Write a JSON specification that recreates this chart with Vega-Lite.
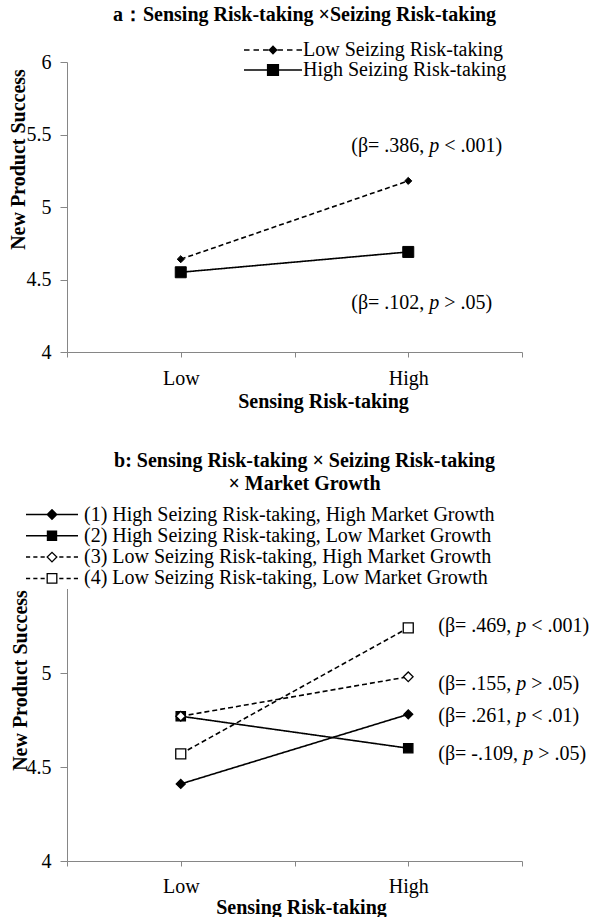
{
  "$schema": "https://vega.github.io/schema/vega-lite/v6.json",
  "padding": {"left": 7, "top": 5, "right": 0, "bottom": 0},
  "background": "white",
  "config": {
    "font": "Liberation Serif",
    "view": {"stroke": null},
    "axis": {
      "labelFont": "Liberation Serif", "labelFontSize": 20, "labelColor": "black",
      "titleFont": "Liberation Serif", "titleFontSize": 20, "titleFontWeight": "bold", "titleColor": "black",
      "domainColor": "#868686", "tickColor": "#868686", "grid": false
    },
    "legend": {"labelFont": "Liberation Serif", "labelFontSize": 20, "labelColor": "black", "labelLimit": 700},
    "title": {"font": "Liberation Serif", "fontSize": 20, "fontWeight": "bold", "color": "black"}
  },
  "datasets": {
    "a": [
      {"sensing": "Low", "seizing": "Low Seizing Risk-taking", "nps": 4.64},
      {"sensing": "High", "seizing": "Low Seizing Risk-taking", "nps": 5.18},
      {"sensing": "Low", "seizing": "High Seizing Risk-taking", "nps": 4.55},
      {"sensing": "High", "seizing": "High Seizing Risk-taking", "nps": 4.69}
    ],
    "notesA": [
      {"sensing": "High", "seizing": "Low Seizing Risk-taking", "label_y": 5.42, "pre": "(β= .386,", "post": "< .001)"},
      {"sensing": "High", "seizing": "High Seizing Risk-taking", "label_y": 4.34, "pre": "(β= .102,", "post": "> .05)"}
    ],
    "b": [
      {"sensing": "Low", "group": "(1) High Seizing Risk-taking, High Market Growth", "nps": 4.41},
      {"sensing": "High", "group": "(1) High Seizing Risk-taking, High Market Growth", "nps": 4.78},
      {"sensing": "Low", "group": "(2) High Seizing Risk-taking, Low Market Growth", "nps": 4.77},
      {"sensing": "High", "group": "(2) High Seizing Risk-taking, Low Market Growth", "nps": 4.6},
      {"sensing": "Low", "group": "(3) Low Seizing Risk-taking, High Market Growth", "nps": 4.77},
      {"sensing": "High", "group": "(3) Low Seizing Risk-taking, High Market Growth", "nps": 4.98},
      {"sensing": "Low", "group": "(4) Low Seizing Risk-taking, Low Market Growth", "nps": 4.57},
      {"sensing": "High", "group": "(4) Low Seizing Risk-taking, Low Market Growth", "nps": 5.24}
    ],
    "notesB": [
      {"sensing": "High", "group": "(4) Low Seizing Risk-taking, Low Market Growth", "label_y": 5.25, "pre": "(β= .469,", "post": "< .001)"},
      {"sensing": "High", "group": "(3) Low Seizing Risk-taking, High Market Growth", "label_y": 4.94, "pre": "(β= .155,", "post": "> .05)"},
      {"sensing": "High", "group": "(1) High Seizing Risk-taking, High Market Growth", "label_y": 4.77, "pre": "(β= .261,", "post": "< .01)"},
      {"sensing": "High", "group": "(2) High Seizing Risk-taking, Low Market Growth", "label_y": 4.57, "pre": "(β= -.109,", "post": "> .05)"}
    ]
  },
  "bounds": "flush",
  "spacing": 227,
  "vconcat": [
    {
      "width": 455,
      "height": 290,
      "title": {"text": "a：Sensing Risk-taking ×Seizing Risk-taking", "frame": "group", "anchor": "middle", "dx": 10, "offset": 16},
      "data": {"name": "a"},
      "encoding": {
        "x": {
          "field": "sensing", "type": "ordinal",
          "scale": {"type": "point", "domain": ["L0", "Low", "M", "High", "H0"], "padding": 0},
          "axis": {
            "title": "Sensing Risk-taking",
            "labelExpr": "datum.value == 'Low' || datum.value == 'High' ? datum.value : ''",
            "labelAngle": 0, "tickSize": 5, "labelPadding": 11,
            "titleX": 256, "titleY": 49, "titleBaseline": "middle"
          }
        }
      },
      "layer": [
        {
          "mark": {"type": "line", "strokeWidth": 1.6, "color": "black"},
          "encoding": {
            "y": {"field": "nps", "type": "quantitative", "scale": {"domain": [4, 6], "nice": false},
              "axis": {"title": "New Product Success", "values": [4, 4.5, 5, 5.5, 6], "format": "~g", "tickSize": 7, "labelPadding": 9,
                "titleX": -49, "titleY": 97, "titleAlign": "center", "titleBaseline": "middle", "titleAngle": -90}},
            "strokeDash": {"field": "seizing", "type": "nominal",
              "scale": {"domain": ["Low Seizing Risk-taking", "High Seizing Risk-taking"], "range": [[5, 3], [1, 0]]}, "legend": null}
          }
        },
        {
          "mark": {"type": "point", "filled": true, "stroke": "black", "strokeWidth": 1, "opacity": 1},
          "encoding": {
            "y": {"field": "nps", "type": "quantitative", "title": "New Product Success"},
            "shape": {"field": "seizing", "type": "nominal",
              "scale": {"domain": ["Low Seizing Risk-taking", "High Seizing Risk-taking"], "range": ["diamond", "square"]}, "legend": null},
            "fill": {"field": "seizing", "type": "nominal",
              "scale": {"domain": ["Low Seizing Risk-taking", "High Seizing Risk-taking"], "range": ["black", "black"]}, "legend": null},
            "size": {"field": "seizing", "type": "ordinal",
              "scale": {"domain": ["Low Seizing Risk-taking", "High Seizing Risk-taking"], "range": [50, 121]}, "legend": null}
          }
        },
        {
          "transform": [{"filter": "false"}],
          "mark": {"type": "point", "filled": true, "color": "black"},
          "encoding": {
            "y": {"field": "nps", "type": "quantitative", "title": "New Product Success"},
            "shape": {"field": "seizing", "type": "nominal",
              "scale": {"domain": ["Low Seizing Risk-taking", "High Seizing Risk-taking"],
                "range": [
                  "M-1,-0.026H-0.81V0.026H-1ZM-0.672,-0.026H-0.482V0.026H-0.672ZM-0.344,-0.026H-0.154V0.026H-0.344ZM0.154,-0.026H0.344V0.026H0.154ZM0.482,-0.026H0.672V0.026H0.482ZM0.81,-0.026H1V0.026H0.81ZM0,-0.16L0.16,0L0,0.16L-0.16,0Z",
                  "M-1,-0.026H1V0.026H-1ZM-0.21,-0.21H0.21V0.21H-0.21Z"
                ]},
              "legend": {"orient": "none", "legendX": 177, "legendY": -21, "title": null, "symbolSize": 3364, "symbolStrokeWidth": 0, "symbolFillColor": "black", "symbolOpacity": 1, "clipHeight": 18, "rowPadding": 0, "padding": 0, "labelOffset": 1, "labelFontSize": 20, "labelLimit": 700}}
          }
        },
        {
          "data": {"name": "notesA"},
          "mark": {"type": "text", "align": "left", "baseline": "middle", "dx": -57, "fontSize": 20, "font": "Liberation Serif", "color": "black"},
          "encoding": {"y": {"field": "label_y", "type": "quantitative", "title": "New Product Success"}, "text": {"field": "pre"}}
        },
        {
          "data": {"name": "notesA"},
          "mark": {"type": "text", "align": "left", "baseline": "middle", "dx": 21, "fontSize": 20, "font": "Liberation Serif", "fontStyle": "italic", "color": "black", "text": "p"},
          "encoding": {"y": {"field": "label_y", "type": "quantitative", "title": "New Product Success"}}
        },
        {
          "data": {"name": "notesA"},
          "mark": {"type": "text", "align": "left", "baseline": "middle", "dx": 36, "fontSize": 20, "font": "Liberation Serif", "color": "black"},
          "encoding": {"y": {"field": "label_y", "type": "quantitative", "title": "New Product Success"}, "text": {"field": "post"}}
        }
      ],
      "resolve": {"scale": {"shape": "independent", "fill": "independent", "size": "independent", "strokeDash": "independent"}}
    },
    {
      "width": 455,
      "height": 282,
      "title": {"text": ["b: Sensing Risk-taking × Seizing Risk-taking", "× Market Growth"], "frame": "group", "anchor": "middle", "dx": 10, "offset": 10, "lineHeight": 23},
      "data": {"name": "b"},
      "encoding": {
        "x": {
          "field": "sensing", "type": "ordinal",
          "scale": {"type": "point", "domain": ["L0", "Low", "M", "High", "H0"], "padding": 0},
          "axis": {
            "title": "Sensing Risk-taking",
            "labelExpr": "datum.value == 'Low' || datum.value == 'High' ? datum.value : ''",
            "labelAngle": 0, "tickSize": 5, "labelPadding": 10,
            "titleX": 234, "titleY": 46, "titleBaseline": "middle"
          }
        }
      },
      "layer": [
        {
          "mark": {"type": "line", "strokeWidth": 1.6, "color": "black"},
          "encoding": {
            "y": {"field": "nps", "type": "quantitative", "scale": {"domain": [4, 5.5], "nice": false},
              "axis": {"title": "New Product Success", "values": [4, 4.5, 5], "format": "~g", "tickSize": 7, "labelPadding": 9,
                "titleX": -47, "titleY": 101, "titleAlign": "center", "titleBaseline": "middle", "titleAngle": -90}},
            "strokeDash": {"field": "group", "type": "nominal",
              "scale": {"domain": ["(1) High Seizing Risk-taking, High Market Growth", "(2) High Seizing Risk-taking, Low Market Growth", "(3) Low Seizing Risk-taking, High Market Growth", "(4) Low Seizing Risk-taking, Low Market Growth"],
                "range": [[1, 0], [1, 0], [5, 3], [5, 3]]}, "legend": null}
          }
        },
        {
          "mark": {"type": "point", "filled": true, "stroke": "black", "strokeWidth": 1.3, "opacity": 1},
          "encoding": {
            "y": {"field": "nps", "type": "quantitative", "title": "New Product Success"},
            "shape": {"field": "group", "type": "nominal",
              "scale": {"domain": ["(1) High Seizing Risk-taking, High Market Growth", "(2) High Seizing Risk-taking, Low Market Growth", "(3) Low Seizing Risk-taking, High Market Growth", "(4) Low Seizing Risk-taking, Low Market Growth"],
                "range": ["diamond", "square", "diamond", "square"]}, "legend": null},
            "fill": {"field": "group", "type": "nominal",
              "scale": {"domain": ["(1) High Seizing Risk-taking, High Market Growth", "(2) High Seizing Risk-taking, Low Market Growth", "(3) Low Seizing Risk-taking, High Market Growth", "(4) Low Seizing Risk-taking, Low Market Growth"],
                "range": ["black", "black", "white", "white"]}, "legend": null},
            "size": {"field": "group", "type": "ordinal",
              "scale": {"domain": ["(1) High Seizing Risk-taking, High Market Growth", "(2) High Seizing Risk-taking, Low Market Growth", "(3) Low Seizing Risk-taking, High Market Growth", "(4) Low Seizing Risk-taking, Low Market Growth"],
                "range": [80, 100, 80, 120]}, "legend": null}
          }
        },
        {
          "transform": [{"filter": "false"}],
          "mark": {"type": "point", "filled": true, "color": "black"},
          "encoding": {
            "y": {"field": "nps", "type": "quantitative", "title": "New Product Success"},
            "shape": {"field": "group", "type": "nominal",
              "scale": {"domain": ["(1) High Seizing Risk-taking, High Market Growth", "(2) High Seizing Risk-taking, Low Market Growth", "(3) Low Seizing Risk-taking, High Market Growth", "(4) Low Seizing Risk-taking, Low Market Growth"],
                "range": [
                  "M-1,-0.029H1V0.029H-1ZM0,-0.22L0.22,0L0,0.22L-0.22,0Z",
                  "M-1,-0.029H1V0.029H-1ZM-0.2,-0.2H0.2V0.2H-0.2Z",
                  "M-1,-0.029H-0.84V0.029H-1ZM-0.72,-0.029H-0.56V0.029H-0.72ZM-0.44,-0.029H-0.28V0.029H-0.44ZM0.28,-0.029H0.44V0.029H0.28ZM0.56,-0.029H0.72V0.029H0.56ZM0.84,-0.029H1V0.029H0.84ZM0,-0.22L0.22,0L0,0.22L-0.22,0ZM0,-0.15L-0.15,0L0,0.15L0.15,0Z",
                  "M-1,-0.029H-0.84V0.029H-1ZM-0.72,-0.029H-0.56V0.029H-0.72ZM-0.44,-0.029H-0.28V0.029H-0.44ZM0.28,-0.029H0.44V0.029H0.28ZM0.56,-0.029H0.72V0.029H0.56ZM0.84,-0.029H1V0.029H0.84ZM-0.21,-0.21H0.21V0.21H-0.21ZM-0.16,-0.16V0.16H0.16V-0.16Z"
                ]},
              "legend": {"orient": "none", "legendX": -41, "legendY": -75, "title": null, "symbolSize": 2704, "symbolStrokeWidth": 0, "symbolFillColor": "black", "symbolOpacity": 1, "clipHeight": 21, "rowPadding": 0.3, "padding": 0, "labelOffset": 6, "labelFontSize": 20, "labelLimit": 700, "fillColor": "white"}}
          }
        },
        {
          "data": {"name": "notesB"},
          "mark": {"type": "text", "align": "left", "baseline": "middle", "dx": 30, "fontSize": 20, "font": "Liberation Serif", "color": "black"},
          "encoding": {"y": {"field": "label_y", "type": "quantitative", "title": "New Product Success"}, "text": {"field": "pre"}}
        },
        {
          "data": {"name": "notesB"},
          "transform": [{"filter": "indexof(datum.pre, '-') < 0"}],
          "mark": {"type": "text", "align": "left", "baseline": "middle", "dx": 108, "fontSize": 20, "font": "Liberation Serif", "fontStyle": "italic", "color": "black", "text": "p"},
          "encoding": {"y": {"field": "label_y", "type": "quantitative", "title": "New Product Success"}}
        },
        {
          "data": {"name": "notesB"},
          "transform": [{"filter": "indexof(datum.pre, '-') < 0"}],
          "mark": {"type": "text", "align": "left", "baseline": "middle", "dx": 123, "fontSize": 20, "font": "Liberation Serif", "color": "black"},
          "encoding": {"y": {"field": "label_y", "type": "quantitative", "title": "New Product Success"}, "text": {"field": "post"}}
        },
        {
          "data": {"name": "notesB"},
          "transform": [{"filter": "indexof(datum.pre, '-') >= 0"}],
          "mark": {"type": "text", "align": "left", "baseline": "middle", "dx": 115, "fontSize": 20, "font": "Liberation Serif", "fontStyle": "italic", "color": "black", "text": "p"},
          "encoding": {"y": {"field": "label_y", "type": "quantitative", "title": "New Product Success"}}
        },
        {
          "data": {"name": "notesB"},
          "transform": [{"filter": "indexof(datum.pre, '-') >= 0"}],
          "mark": {"type": "text", "align": "left", "baseline": "middle", "dx": 130, "fontSize": 20, "font": "Liberation Serif", "color": "black"},
          "encoding": {"y": {"field": "label_y", "type": "quantitative", "title": "New Product Success"}, "text": {"field": "post"}}
        }
      ],
      "resolve": {"scale": {"shape": "independent", "fill": "independent", "size": "independent", "strokeDash": "independent"}}
    }
  ]
}
